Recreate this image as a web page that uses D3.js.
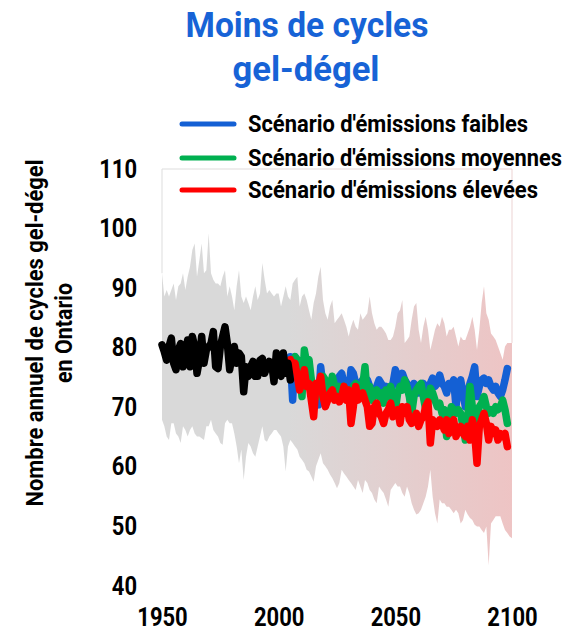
<!DOCTYPE html>
<html>
<head>
<meta charset="utf-8">
<script src="https://d3js.org/d3.v7.min.js"></script>
<title>Moins de cycles gel-dégel</title>
<style>
  body { margin: 0; background: #fff; }
  text { font-family: Roboto, "Liberation Sans", Arial, sans-serif; font-weight: bold; }
</style>
</head>
<body>
<div id="chart"></div>
<script>
// ---- data ----
const yTicks = [40, 50, 60, 70, 80, 90, 100, 110];
const xTicks = [1950, 2000, 2050, 2100];

// range of the model ensemble, one value per year 1950-2100
const bandYears = d3.range(1950, 2101);
const bandUpper = [
  92.5, 88.6, 89.7, 88.6, 89.7, 90.8, 88.0, 90.3, 90.8, 92.5,
  89.7, 91.9, 93.6, 96.4, 97.5, 91.9, 94.7, 97.5, 92.5, 93.0,
  99.2, 92.5, 91.4, 90.8, 90.8, 90.3, 91.9, 93.0, 88.6, 90.3,
  88.6, 86.3, 90.3, 93.0, 88.6, 87.5, 88.6, 87.5, 86.3, 88.6,
  90.3, 88.0, 89.1, 94.2, 91.4, 89.1, 89.7, 89.1, 88.6, 89.1,
  89.1, 86.9, 88.6, 90.3, 88.6, 88.0, 90.8, 91.4, 91.9, 86.9,
  88.6, 89.1, 88.0, 86.3, 84.7, 87.5, 89.1, 91.9, 93.6, 88.0,
  85.8, 84.7, 86.9, 88.0, 84.1, 84.7, 85.2, 85.8, 84.7, 83.5,
  81.9, 83.5, 84.7, 83.5, 83.0, 85.8, 84.7, 85.2, 85.8, 88.6,
  85.8, 84.1, 83.0, 83.5, 83.5, 83.0, 82.4, 81.3, 81.3, 81.9,
  83.5, 85.8, 86.3, 88.0, 80.8, 81.3, 81.9, 84.7, 86.9, 87.5,
  83.0, 80.8, 83.5, 85.2, 83.0, 79.6, 81.3, 83.0, 84.1, 83.5,
  85.2, 84.1, 81.9, 83.0, 83.0, 83.5, 81.9, 80.2, 81.9, 81.3,
  81.3, 82.4, 83.5, 85.2, 83.0, 79.6, 83.0, 87.5, 90.3, 85.8,
  84.7, 82.4, 81.9, 81.3, 80.2, 79.1, 78.0, 80.2, 80.8, 80.8,
  80.8
];
const bandLower = [
  67.9, 66.8, 65.1, 64.5, 67.3, 67.3, 65.6, 65.1, 64.0, 66.8,
  66.2, 65.1, 66.2, 66.8, 65.6, 65.1, 65.1, 64.8, 64.5, 66.8,
  66.8, 67.9, 66.2, 65.6, 65.1, 64.0, 63.7, 67.3, 67.9, 67.3,
  67.3, 65.6, 63.4, 60.6, 62.9, 57.8, 61.7, 64.0, 63.4, 62.3,
  61.7, 63.4, 65.1, 66.8, 64.5, 64.2, 65.1, 65.6, 66.2, 66.2,
  65.6, 65.1, 63.4, 59.2, 63.4, 64.5, 64.0, 63.4, 62.9, 61.7,
  61.2, 60.6, 59.5, 59.2, 58.4, 57.5, 60.1, 61.2, 62.3, 60.6,
  60.1, 59.5, 58.7, 58.1, 57.3, 56.4, 57.3, 59.5, 58.9, 58.4,
  57.8, 57.3, 56.7, 56.1, 57.8, 56.7, 55.6, 57.8, 57.3, 56.1,
  55.6, 54.5, 53.9, 56.7, 56.1, 55.6, 54.5, 53.3, 56.1, 56.7,
  57.3, 56.7, 56.7, 55.6, 55.0, 56.7, 55.6, 53.9, 52.8, 52.0,
  52.2, 52.8, 53.9, 55.0, 56.7, 59.5, 55.0, 52.2, 50.5, 54.5,
  53.9, 53.9, 53.3, 53.3, 52.8, 52.2, 52.8, 52.2, 50.5, 51.1,
  52.8, 52.0, 51.4, 51.1, 50.3, 50.0, 50.0, 49.4, 48.9, 50.0,
  43.5, 50.5, 51.1, 51.7, 51.7, 51.7, 50.5, 49.4, 48.9, 48.3,
  48.0
];

// observed, 1950-2005
const obsYears = d3.range(1950, 2006);
const observed = [
  80.5, 79.3, 77.9, 80.2, 81.6, 77.4, 76.3, 79.6, 80.7, 76.8,
  79.1, 81.3, 76.8, 81.9, 80.2, 75.7, 77.9, 81.9, 77.4, 79.6,
  80.2, 80.7, 82.7, 76.8, 76.5, 80.2, 81.9, 83.5, 80.7, 76.3,
  78.5, 80.2, 77.4, 79.1, 78.5, 72.6, 76.8, 75.2, 76.8, 77.7,
  75.2, 75.2, 77.9, 78.2, 75.7, 76.8, 77.7, 77.4, 74.3, 79.1,
  75.7, 75.2, 79.1, 75.7, 77.4, 74.6
];

// scenarios, 2005-2098
const projYears = d3.range(2005, 2099);
const lowEmissions = [
  78.5, 71.2, 78.5, 77.4, 74.6,
  75.7, 74.0, 75.2, 73.5, 74.6, 72.9, 73.5, 70.4, 76.8, 73.5,
  72.4, 74.0, 73.5, 74.6, 73.5, 74.0, 75.2, 75.7, 74.0, 73.5,
  72.4, 76.3, 75.7, 74.0, 73.5, 74.0, 74.6, 72.9, 74.6, 73.5,
  72.9, 72.4, 73.5, 74.6, 74.0, 71.8, 73.5, 72.9, 72.4, 74.0,
  76.3, 75.2, 73.5, 75.7, 74.6, 74.0, 72.9, 71.8, 74.0, 73.5,
  72.4, 72.9, 74.0, 72.9, 73.5, 74.0, 74.9, 73.5, 74.0, 75.4,
  74.0, 73.5, 72.4, 74.0, 73.5, 74.6, 70.1, 73.5, 74.6, 72.4,
  70.1, 72.4, 74.0, 75.2, 76.8, 71.8, 73.5, 74.6, 74.9, 74.0,
  74.6, 73.5, 72.9, 73.5, 72.4, 71.8, 72.9, 74.6, 76.5
];
const midEmissions = [
  78.0, 77.4, 78.5, 78.0, 76.3,
  71.8, 79.6, 77.4, 78.0, 74.6, 72.4, 73.5, 71.8, 72.4, 75.2,
  74.6, 73.5, 72.4, 75.2, 73.5, 72.4, 73.5, 71.8, 73.5, 72.4,
  72.9, 71.8, 73.5, 74.0, 72.9, 71.8, 73.5, 76.8, 71.8, 73.5,
  71.2, 72.4, 72.9, 71.8, 72.4, 70.7, 72.9, 71.8, 73.5, 71.2,
  69.6, 72.4, 73.5, 72.9, 74.6, 73.5, 71.8, 69.0, 71.8, 72.9,
  73.5, 74.0, 71.8, 69.6, 71.2, 73.2, 72.4, 71.2, 70.1, 70.7,
  69.0, 69.6, 65.1, 68.4, 70.1, 69.6, 69.0, 69.6, 69.0, 66.8,
  64.5, 67.9, 73.5, 70.1, 65.1, 68.4, 70.1, 70.7, 71.8, 70.1,
  69.0, 69.6, 69.0, 70.1, 69.6, 70.1, 71.2, 69.6, 67.3
];
const highEmissions = [
  78.0, 76.3, 77.4, 75.2, 72.9,
  74.6, 76.3, 73.5, 74.0, 71.2, 68.4, 74.0, 73.5, 75.2, 71.8,
  70.1, 71.2, 72.4, 72.9, 71.2, 71.8, 70.9, 71.8, 73.5, 71.2,
  72.9, 67.3, 70.1, 73.5, 71.2, 71.8, 72.4, 71.2, 70.1, 66.8,
  67.3, 70.1, 70.7, 69.0, 68.4, 67.3, 69.0, 69.6, 70.7, 68.4,
  69.0, 69.6, 67.3, 70.1, 69.0, 70.1, 67.9, 67.3, 67.9, 69.0,
  66.8, 67.9, 68.4, 70.1, 70.9, 64.0, 67.9, 67.3, 66.8, 67.9,
  67.3, 66.2, 67.9, 65.6, 67.3, 67.9, 65.1, 66.2, 66.8, 65.6,
  65.1, 66.8, 64.5, 67.9, 65.6, 60.6, 66.8, 67.9, 69.0, 67.3,
  64.5, 66.8, 65.6, 66.2, 64.5, 65.6, 65.1, 65.6, 63.4
];

const scenarioNames = ["Scénario d'émissions faibles", "Scénario d'émissions moyennes", "Scénario d'émissions élevées"];
const scenarioColors = ["#1460d4", "#00b050", "#ff0000"];

// ---- layout ----
const width = 577;
const height = 631;
const plot = { left: 162, right: 512, top: 169, bottom: 586 };

const svg = d3.select("#chart")
  .append("svg")
  .attr("width", width)
  .attr("height", height);

const x = d3.scaleLinear().domain([1950, 2100]).range([plot.left, plot.right]);
const y = d3.scaleLinear().domain([40, 110]).range([plot.bottom, plot.top]);

// squeeze text to the narrow bold face of the original
function fit(sel, w) {
  sel.attr("textLength", w).attr("lengthAdjust", "spacingAndGlyphs");
}

const defs = svg.append("defs");
const bandGrad = defs.append("linearGradient").attr("id", "bandFill")
  .attr("x1", 0).attr("x2", 1).attr("y1", 0).attr("y2", 0);
bandGrad.append("stop").attr("offset", 0).attr("stop-color", "#d9d9d9");
bandGrad.append("stop").attr("offset", 0.36).attr("stop-color", "#d9d9d9");
bandGrad.append("stop").attr("offset", 1).attr("stop-color", "#eec4c4");

const frameGrad = defs.append("linearGradient").attr("id", "frameStroke")
  .attr("gradientUnits", "userSpaceOnUse")
  .attr("x1", plot.left).attr("x2", plot.right).attr("y1", 0).attr("y2", 0);
frameGrad.append("stop").attr("offset", 0).attr("stop-color", "#dddddd");
frameGrad.append("stop").attr("offset", 1).attr("stop-color", "#ecd3d3");

// faint frame above the band
svg.append("path")
  .attr("d", `M${plot.left},${y(bandUpper[0])}V${plot.top}H${plot.right}V${y(bandUpper[bandUpper.length - 1])}`)
  .attr("fill", "none")
  .attr("stroke", "url(#frameStroke)")
  .attr("stroke-width", 1);

// ensemble range
const area = d3.area()
  .x((d, i) => x(bandYears[i]))
  .y0((d, i) => y(bandLower[i]))
  .y1((d, i) => y(bandUpper[i]));

svg.append("path")
  .datum(bandUpper)
  .attr("d", area)
  .attr("fill", "url(#bandFill)");

// scenario lines
const line = years => d3.line()
  .x((d, i) => x(years[i]))
  .y(d => y(d));

[lowEmissions, midEmissions, highEmissions].forEach((series, k) => {
  svg.append("path")
    .datum(series)
    .attr("d", line(projYears))
    .attr("fill", "none")
    .attr("stroke", scenarioColors[k])
    .attr("stroke-width", 7.5)
    .attr("stroke-linejoin", "round")
    .attr("stroke-linecap", "round");
});

// observed
svg.append("path")
  .datum(observed)
  .attr("d", line(obsYears))
  .attr("fill", "none")
  .attr("stroke", "#000")
  .attr("stroke-width", 7.5)
  .attr("stroke-linejoin", "round")
  .attr("stroke-linecap", "round");

// axes
const yAxis = svg.append("g")
  .attr("transform", `translate(${plot.left},0)`)
  .call(d3.axisLeft(y).tickValues(yTicks).tickSize(0).tickPadding(25));
const xAxis = svg.append("g")
  .attr("transform", `translate(0,${plot.bottom})`)
  .call(d3.axisBottom(x).tickValues(xTicks).tickFormat(d3.format("d")).tickSize(0).tickPadding(22));

[yAxis, xAxis].forEach(g => {
  g.select(".domain").remove();
  g.selectAll("text")
    .attr("fill", "#000")
    .style("font-size", "25px")
    .style("font-family", "Roboto, 'Liberation Sans', Arial, sans-serif")
    .style("font-weight", "bold")
    .each(function () {
      const n = this.textContent.length;
      d3.select(this).call(fit, n * 12.6);
    });
});

// y title
const yTitle = svg.append("g").attr("transform", "rotate(-90)");
yTitle.append("text")
  .attr("x", -333).attr("y", 43)
  .attr("text-anchor", "middle")
  .style("font-size", "23px")
  .text("Nombre annuel de cycles gel-dégel")
  .call(fit, 347);
yTitle.append("text")
  .attr("x", -333).attr("y", 72)
  .attr("text-anchor", "middle")
  .style("font-size", "23px")
  .text("en Ontario")
  .call(fit, 100);

// title
svg.append("text")
  .attr("x", 307).attr("y", 37)
  .attr("text-anchor", "middle")
  .attr("fill", "#1763d6")
  .style("font-size", "35px")
  .text("Moins de cycles")
  .call(fit, 243);
svg.append("text")
  .attr("x", 306).attr("y", 81)
  .attr("text-anchor", "middle")
  .attr("fill", "#1763d6")
  .style("font-size", "35px")
  .text("gel-dégel")
  .call(fit, 147);

// legend
const legendY = [124, 158, 190];
const legendW = [280, 314, 290];
const legend = svg.append("g");
scenarioNames.forEach((name, k) => {
  legend.append("line")
    .attr("x1", 182).attr("x2", 234)
    .attr("y1", legendY[k]).attr("y2", legendY[k])
    .attr("stroke", scenarioColors[k])
    .attr("stroke-width", 5)
    .attr("stroke-linecap", "round");
  legend.append("text")
    .attr("x", 248).attr("y", legendY[k] + 8)
    .style("font-size", "23px")
    .attr("fill", "#000")
    .text(name)
    .call(fit, legendW[k]);
});
</script>
</body>
</html>
